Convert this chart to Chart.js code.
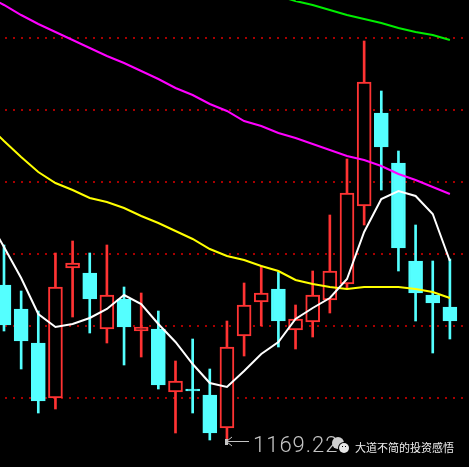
<!DOCTYPE html>
<html>
<head>
<meta charset="utf-8">
<script src="https://cdn.jsdelivr.net/npm/chart.js@4.4.1/dist/chart.umd.min.js"></script>
<style>
  html, body { margin: 0; padding: 0; background: #000; }
  #wrap { width: 469px; height: 467px; }
</style>
</head>
<body>
<div id="wrap"><canvas id="kline" width="469" height="467"></canvas></div>
<script>
// Daily candles, left to right (the first one is cut off by the left edge)
const opens  = [1247, 1235, 1218, 1190.5, 1255.5, 1253, 1225, 1240, 1224, 1225, 1193.5, 1195, 1192, 1175.5,
                1221.5, 1238.5, 1245, 1224.5, 1228.5, 1239.5, 1247.5, 1286.5, 1333, 1308, 1259, 1242, 1236];
const closes = [1227, 1219, 1189, 1246, 1258, 1240, 1242, 1226, 1226, 1197, 1199, 1194, 1173, 1216,
                1237, 1243, 1229, 1230, 1242, 1254, 1293, 1348.5, 1316, 1265.5, 1243, 1238, 1229];
const highs  = [1267, 1244, 1234, 1263, 1269, 1263, 1267, 1246, 1243, 1234, 1209, 1220, 1205, 1229,
                1248, 1256.5, 1253.5, 1237, 1254, 1282, 1310, 1369, 1344, 1314, 1277, 1259, 1260];
const lows   = [1224, 1205, 1183, 1185, 1231, 1223, 1218, 1207, 1211, 1195, 1173, 1183, 1169.5, 1169.22,
                1211.5, 1226.5, 1216, 1215, 1221, 1233, 1245, 1277, 1294.5, 1254, 1229, 1213, 1220];

// Moving averages: first value belongs to the day just left of the visible window
const maFast = [1281, 1266, 1250.5, 1232.5, 1226, 1227.5, 1230.5, 1235, 1242, 1237.5, 1227.5, 1218.5, 1207.5, 1198,
                1196, 1204, 1212.5, 1218.5, 1230, 1235.5, 1240.5, 1250, 1273.5, 1290, 1294, 1291.5, 1282.5, 1259];
const maMid = [1327.5, 1319, 1311, 1303.5, 1298, 1294.5, 1290.5, 1288.5, 1285.5, 1281.5, 1278, 1274, 1270, 1265,
               1261.5, 1259.5, 1256.5, 1254, 1249.5, 1247.5, 1246, 1245, 1246, 1246, 1246, 1245, 1243.5, 1240.5];
const maSlow = [1391.5, 1387, 1382, 1377.5, 1373.5, 1369.5, 1365.5, 1361.5, 1358, 1354, 1350, 1345.5, 1342, 1337.5,
                1334, 1329, 1326.5, 1323, 1320.5, 1317.5, 1314.5, 1311.5, 1309.5, 1306.5, 1302.5, 1299.5, 1296, 1292.5];
const maSlowest = [null, null, null, null, null, null, null, null, null, null, null, null, null, null,
                   null, null, null, 1391.5, 1389, 1387, 1384.5, 1382, 1380, 1378, 1375.5, 1373.5, 1372, 1369.5];

// Dotted horizontal price levels
const gridLevels = [1190.5, 1226.5, 1262.5, 1298.5, 1334.5, 1370.5];

const UP = '#ff3333';
const DOWN = '#54ffff';

const isUp = closes.map((c, i) => c > opens[i]);
const candleColors = isUp.map(up => up ? UP : DOWN);

const bodyData = opens.map((o, i) => ({ x: i, y: [o, closes[i]] }));
const wickData = lows.map((l, i) => ({ x: i, y: [l, highs[i]] }));
const maPoints = (arr) => arr.map((v, i) => ({ x: i - 1, y: v }));

const lineDs = (data, color) => ({
  type: 'line',
  data: maPoints(data),
  borderColor: color,
  borderWidth: 2,
  pointRadius: 0,
  tension: 0,
  spanGaps: false,
  order: 0
});

// Marks the lowest low with an arrow and its value, plus the watermark
const labelPlugin = {
  id: 'labels',
  afterDraw(chart) {
    const { ctx, scales: { x, y } } = chart;
    const lowVal = Math.min(...lows);
    const lowIdx = lows.indexOf(lowVal);
    const px = Math.round(x.getPixelForValue(lowIdx));
    const py = Math.round(y.getPixelForValue(lowVal));

    ctx.save();
    ctx.fillStyle = '#c4c4c4';
    ctx.strokeStyle = '#c4c4c4';
    ctx.lineWidth = 1;
    ctx.fillRect(px - 2, py - 2, 3, 6);
    ctx.beginPath();
    ctx.moveTo(px, py + 0.5);
    ctx.lineTo(px + 22, py + 0.5);
    ctx.moveTo(px, py);
    ctx.lineTo(px + 5, py - 4);
    ctx.moveTo(px, py + 1);
    ctx.lineTo(px + 5, py + 5);
    ctx.stroke();

    ctx.font = '300 22px Roboto';
    ctx.letterSpacing = '1px';
    ctx.textBaseline = 'alphabetic';
    ctx.fillText(lowVal.toFixed(2), px + 26, py + 11);

    // wechat-style icon
    ctx.letterSpacing = '0px';
    ctx.fillStyle = '#cfcfcf';
    ctx.beginPath();
    ctx.arc(338, 443, 6, 0, Math.PI * 2);
    ctx.fill();
    ctx.fillStyle = '#000';
    ctx.beginPath();
    ctx.arc(344, 448, 6, 0, Math.PI * 2);
    ctx.fill();
    ctx.fillStyle = '#e6e6e6';
    ctx.beginPath();
    ctx.arc(344, 448, 5, 0, Math.PI * 2);
    ctx.fill();
    ctx.fillStyle = '#000';
    ctx.fillRect(342, 446, 1, 1);
    ctx.fillRect(345, 446, 1, 1);

    ctx.fillStyle = '#eeeeee';
    ctx.font = '11px "Noto Sans CJK SC"';
    ctx.fillText('大道不简的投资感悟', 355, 452);
    ctx.restore();
  }
};

new Chart(document.getElementById('kline').getContext('2d'), {
  type: 'bar',
  data: {
    datasets: [
      lineDs(maFast, '#ffffff'),
      lineDs(maMid, '#ffff00'),
      lineDs(maSlow, '#ff00ff'),
      lineDs(maSlowest, '#00ee00'),
      {
        data: bodyData,
        backgroundColor: isUp.map(up => up ? '#000000' : DOWN),
        borderColor: candleColors,
        borderWidth: 2,
        borderSkipped: false,
        barThickness: 14,
        grouped: false,
        order: 1
      },
      {
        data: wickData,
        backgroundColor: candleColors,
        borderWidth: 0,
        barThickness: 2,
        grouped: false,
        order: 2
      }
    ]
  },
  options: {
    responsive: false,
    animation: false,
    events: [],
    layout: { padding: 0 },
    plugins: {
      legend: { display: false },
      tooltip: { enabled: false }
    },
    scales: {
      x: {
        type: 'linear',
        display: false,
        offset: false,
        bounds: 'ticks',
        min: -0.233,
        max: 27.114,
        grid: { offset: false }
      },
      y: {
        type: 'linear',
        min: 1156,
        max: 1389.5,
        afterBuildTicks: (axis) => {
          axis.ticks = gridLevels.map(v => ({ value: v }));
        },
        ticks: { display: false },
        grid: { color: '#a80000', lineWidth: 2, drawTicks: false },
        border: { display: false, dash: [2, 6], dashOffset: 3 }
      }
    }
  },
  plugins: [labelPlugin]
});
</script>
</body>
</html>
